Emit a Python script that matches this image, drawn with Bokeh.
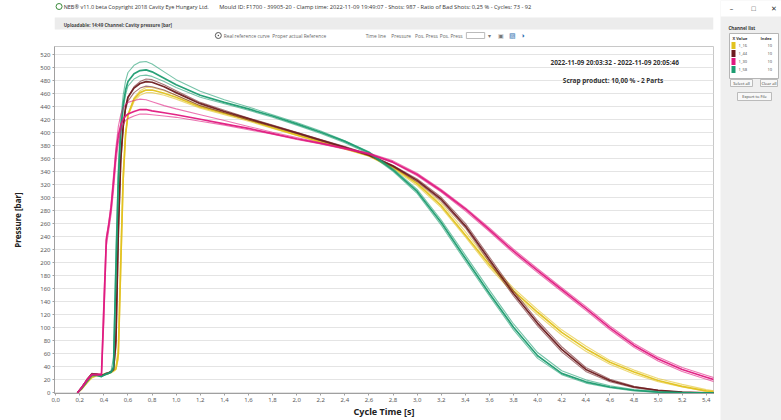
from bokeh.plotting import figure
from bokeh.layouts import row, column
from bokeh.models import Range1d, FixedTicker, Label
from bokeh.core.properties import value
from bokeh.embed import file_html
from bokeh.resources import INLINE

# ---------------- data ----------------
t = [0.18, 0.22, 0.26, 0.30, 0.34, 0.38, 0.40, 0.42, 0.44, 0.46, 0.48, 0.50, 0.52, 0.54,
     0.56, 0.58, 0.60, 0.65, 0.70, 0.75, 0.80, 0.90, 1.0, 1.2, 1.4, 1.6, 1.8, 2.0, 2.2,
     2.4, 2.6, 2.8, 3.0, 3.2, 3.4, 3.6, 3.8, 4.0, 4.2, 4.4, 4.6, 4.8, 5.0, 5.2, 5.4, 5.47]

yellow_cycles = [
    [0, 7, 16, 24, 27, 27, 28, 29, 30, 32, 34, 37, 60, 200, 330, 398, 428, 452, 462, 466, 466, 461, 455, 440, 430, 420, 408, 397, 386, 376, 365, 347, 322, 288, 243, 197, 157, 124, 93, 68, 47, 32, 19, 10, 3, 2],
    [0, 6, 15, 23, 26, 27, 28, 29, 30, 31, 33, 36, 52, 185, 320, 395, 428, 454, 465, 470, 470, 465, 458, 442, 431, 421, 409, 398, 387, 377, 366, 348, 324, 292, 248, 201, 161, 128, 97, 72, 50, 35, 22, 13, 5, 3],
    [0, 7, 17, 25, 27, 28, 29, 30, 31, 33, 36, 40, 70, 215, 340, 400, 426, 448, 458, 462, 462, 458, 452, 438, 428, 418, 407, 396, 385, 375, 364, 345, 319, 285, 240, 193, 153, 120, 89, 64, 44, 29, 17, 9, 2, 1],
]
brown_cycles = [
    [0, 9, 20, 29, 29, 27, 28, 30, 31, 33, 36, 80, 250, 360, 410, 440, 455, 469, 476, 479, 478, 471, 462, 445, 433, 422, 411, 400, 389, 378, 366, 349, 327, 298, 257, 205, 153, 107, 67, 36, 19, 9, 4, 1, 0, 0],
    [0, 10, 21, 30, 29, 27, 28, 29, 31, 33, 35, 70, 235, 352, 406, 438, 455, 471, 479, 483, 482, 474, 465, 447, 435, 423, 412, 401, 390, 379, 367, 350, 329, 301, 261, 209, 157, 111, 71, 39, 21, 10, 4, 1, 0, 0],
    [0, 9, 19, 28, 28, 26, 27, 29, 30, 32, 38, 95, 265, 365, 410, 436, 449, 462, 469, 472, 471, 466, 458, 442, 431, 420, 410, 399, 388, 377, 365, 348, 325, 295, 254, 201, 149, 103, 63, 33, 17, 8, 3, 1, 0, 0],
]
green_cycles = [
    [0, 8, 18, 27, 27, 25, 27, 29, 30, 32, 40, 190, 330, 405, 443, 466, 479, 491, 496, 497, 494, 484, 474, 458, 447, 437, 426, 414, 401, 387, 370, 343, 310, 262, 207, 153, 101, 57, 30, 17, 9, 4, 1, 0, 0, 0],
    [0, 9, 19, 28, 28, 26, 28, 30, 31, 34, 55, 220, 350, 420, 458, 480, 493, 504, 509, 510, 506, 494, 482, 464, 451, 440, 428, 416, 403, 388, 371, 345, 313, 266, 212, 158, 106, 62, 34, 20, 11, 5, 2, 1, 0, 0],
    [0, 8, 17, 26, 27, 25, 27, 28, 30, 31, 36, 170, 315, 395, 436, 459, 472, 483, 488, 489, 487, 479, 470, 455, 445, 435, 424, 412, 399, 385, 368, 341, 307, 258, 203, 149, 97, 53, 28, 15, 8, 3, 1, 0, 0, 0],
]
pink_cycles = [
    [0, 9, 20, 28, 28, 28, 130, 235, 258, 285, 325, 368, 396, 412, 421, 426, 429, 433, 436, 436, 434, 431, 428, 421, 414, 407, 399, 391, 384, 376, 368, 355, 336, 311, 283, 251, 218, 188, 159, 130, 100, 73, 52, 36, 24, 20],
    [0, 8, 18, 27, 29, 30, 150, 240, 262, 292, 335, 378, 410, 428, 438, 444, 447, 450, 452, 451, 448, 442, 437, 428, 419, 410, 401, 393, 385, 377, 369, 357, 338, 313, 285, 254, 221, 191, 162, 133, 103, 76, 55, 39, 27, 23],
    [0, 10, 21, 29, 27, 27, 110, 225, 250, 275, 312, 355, 385, 403, 413, 419, 422, 426, 429, 429, 428, 426, 424, 418, 412, 405, 398, 390, 383, 375, 367, 354, 334, 309, 280, 248, 215, 185, 156, 127, 97, 70, 49, 33, 21, 17],
]

channel_names = ["1_16", "1_44", "1_30", "1_58"]
channel_index = ["10", "10", "10", "10"]
channel_colors = ["#e2c21e", "#6e1c1f", "#e0197f", "#1c9c70"]
channel_data = [yellow_cycles, brown_cycles, pink_cycles, green_cycles]
draw_order = [0, 1, 3, 2]

y_ticks = list(range(0, 540, 20))
x_ticks = [0.0, 0.2, 0.4, 0.6, 0.8, 1.0, 1.2, 1.4, 1.6, 1.8, 2.0, 2.2, 2.4, 2.6,
           2.8, 3.0, 3.2, 3.4, 3.6, 3.8, 4.0, 4.2, 4.4, 4.6, 4.8, 5.0, 5.2, 5.4]
x_tick_labels = ["0,0", "0,2", "0,4", "0,6", "0,8", "1,0", "1,2", "1,4", "1,6", "1,8",
                 "2,0", "2,2", "2,4", "2,6", "2,8", "3,0", "3,2", "3,4", "3,6", "3,8",
                 "4,0", "4,2", "4,4", "4,6", "4,8", "5,0", "5,2", "5,4"]

title_left = "NEB\u00ae v11.0 beta Copyright 2018 Cavity Eye Hungary Ltd."
title_right = ("Mould ID: F1700  -  39905-20  -  Clamp time: 2022-11-09 19:49:07  -  Shots: 987"
               "  -  Ratio of Bad Shots: 0,25 %  -  Cycles: 73 - 92")
subtitle = "Uploadable: 14:49  Channel: Cavity pressure [bar]"
date_range_text = "2022-11-09 20:03:32 - 2022-11-09 20:05:46"
scrap_text = "Scrap product: 10,00 %  -  2 Parts"

UI = value("Open Sans")
NS = "Noto Sans"

# ---------------- top bar ----------------
top = figure(width=720, height=45, x_range=Range1d(0, 720), y_range=Range1d(45, 0),
             output_backend="svg", toolbar_location=None, min_border=0,
             background_fill_color="white", border_fill_color="white", outline_line_color=None)
top.axis.visible = False
top.grid.visible = False
top.quad(left=[0], right=[720], top=[17], bottom=[29], fill_color="#ececec", line_color=None)
top.scatter(x=[5], y=[6], size=6, marker="circle", fill_color=None, line_color="#3a8a3a")
top.text(x=[10], y=[6], text=[title_left], text_font=UI, text_font_size="5.5px",
         text_color="#333333", text_baseline="middle")
top.text(x=[180], y=[6], text=[title_right], text_font=UI, text_font_size="5.7px",
         text_color="#333333", text_baseline="middle")
top.text(x=[10], y=[24], text=[subtitle], text_font=UI, text_font_size="4.5px",
         text_font_style="bold", text_color="#444444", text_baseline="middle")
top.scatter(x=[179], y=[35], size=6, marker="circle_dot", fill_color="white", line_color="#555555")
top.text(x=[185, 238], y=[35, 35], text=["Real reference curve", "Proper actual Reference"],
         text_font=UI, text_font_size="4.8px", text_color="#666666", text_baseline="middle")
top.text(x=[340, 368, 394, 421], y=[35] * 4,
         text=["Time line", "Pressure", "Pos. Press", "Pos. Press"],
         text_font=UI, text_font_size="4.8px", text_color="#666666", text_baseline="middle")
top.quad(left=[450], right=[470], top=[32], bottom=[38], fill_color="white", line_color="#bbbbbb")
top.text(x=[474, 485], y=[35, 35], text=["\u25be", "\u25a3"], text_font=UI,
         text_font_size="6px", text_color="#777777", text_baseline="middle")
top.text(x=[497, 509], y=[35, 35], text=["\u25a8", "\u25d1"], text_font=UI,
         text_font_size="7px", text_color="#2f6fb0", text_baseline="middle")

# ---------------- main chart ----------------
p = figure(width=720, height=375, x_range=Range1d(-0.01, 5.46), y_range=Range1d(-1, 533),
           output_backend="svg", toolbar_location=None,
           min_border_left=54, min_border_right=7, min_border_top=1, min_border_bottom=21,
           background_fill_color="white", border_fill_color="white",
           outline_line_color="#c8c8c8")

for ci in draw_order:
    for k, cyc in enumerate(channel_data[ci]):
        p.line(t, cyc, line_color=channel_colors[ci],
               line_width=1.7 if k == 0 else 1.1, line_alpha=0.95 if k == 0 else 0.6,
               line_join="round")

p.xgrid.visible = False
p.ygrid.grid_line_color = "#e4e4e4"
p.ygrid.grid_line_width = 1
p.yaxis.ticker = FixedTicker(ticks=y_ticks)
p.xaxis.ticker = FixedTicker(ticks=x_ticks)
p.xaxis.major_label_overrides = {xt: lab for xt, lab in zip(x_ticks, x_tick_labels)}
for ax in (p.xaxis[0], p.yaxis[0]):
    ax.axis_line_color = "#a0a0a0"
    ax.major_tick_line_color = "#a0a0a0"
    ax.major_tick_out = 2
    ax.major_tick_in = 0
    ax.minor_tick_line_color = None
    ax.major_label_text_font = NS
    ax.major_label_text_font_size = "6px"
    ax.major_label_text_color = "#5a5a5a"
    ax.major_label_standoff = 2
    ax.axis_label_text_font = NS
    ax.axis_label_text_font_style = "bold"
    ax.axis_label_text_color = "#222222"
p.xaxis.axis_label = "Cycle Time [s]"
p.yaxis.axis_label = "Pressure [bar]"
p.xaxis.axis_label_text_font_size = "9px"
p.yaxis.axis_label_text_font_size = "8px"
p.xaxis.axis_label_standoff = 0
p.yaxis.axis_label_standoff = 14

for txt, yy in ((date_range_text, 508), (scrap_text, 481)):
    p.add_layout(Label(x=4.64, y=yy, text=txt, text_align="center", text_baseline="middle",
                       text_font=NS, text_font_size="6.5px", text_font_style="bold",
                       text_color="#333333"))

# ---------------- side panel ----------------
side = figure(width=61, height=420, x_range=Range1d(720, 781), y_range=Range1d(420, 0),
              output_backend="svg", toolbar_location=None, min_border=0,
              background_fill_color="#efefef", border_fill_color="#efefef", outline_line_color=None)
side.axis.visible = False
side.grid.visible = False
side.quad(left=[720], right=[781], top=[0], bottom=[16], fill_color="white", line_color=None)
side.text(x=[731, 753, 773], y=[8, 8, 8], text=["\u2013", "\u25a1", "\u2715"], text_font=UI,
          text_font_size="7px", text_color="#333333", text_align="center", text_baseline="middle")
side.text(x=[728], y=[27], text=["Channel list"], text_font=UI, text_font_size="4.5px",
          text_font_style="bold", text_color="#333333", text_baseline="middle")
side.quad(left=[729], right=[778], top=[33], bottom=[78], fill_color="white", line_color="#b5b5b5")
side.text(x=[732, 760], y=[38, 38], text=["X Value", "Index"], text_font=UI, text_font_size="4px",
          text_font_style="bold", text_color="#333333", text_baseline="middle")
row_y = [45, 53, 61, 69]
side.quad(left=[731] * 4, right=[735] * 4, top=[yy - 3.5 for yy in row_y],
          bottom=[yy + 3.5 for yy in row_y], fill_color=channel_colors, line_color=None)
side.text(x=[738] * 4, y=row_y, text=channel_names, text_font=UI, text_font_size="4px",
          text_color="#444444", text_baseline="middle")
side.text(x=[767] * 4, y=row_y, text=channel_index, text_font=UI, text_font_size="4px",
          text_color="#444444", text_baseline="middle")
side.quad(left=[730, 760], right=[752, 777], top=[79, 79], bottom=[86, 86],
          fill_color="#f8f8f8", line_color="#bbbbbb")
side.text(x=[741, 768.5], y=[82.5, 82.5], text=["Select all", "Clear all"], text_font=UI,
          text_font_size="4px", text_color="#333333", text_align="center", text_baseline="middle")
side.quad(left=[737], right=[771], top=[92], bottom=[100], fill_color="#f8f8f8", line_color="#bbbbbb")
side.text(x=[754], y=[96], text=["Export to File"], text_font=UI, text_font_size="4px",
          text_color="#333333", text_align="center", text_baseline="middle")

layout = row(column(top, p, spacing=0), side, spacing=0)
open("out.html", "w").write(file_html(layout, INLINE))
